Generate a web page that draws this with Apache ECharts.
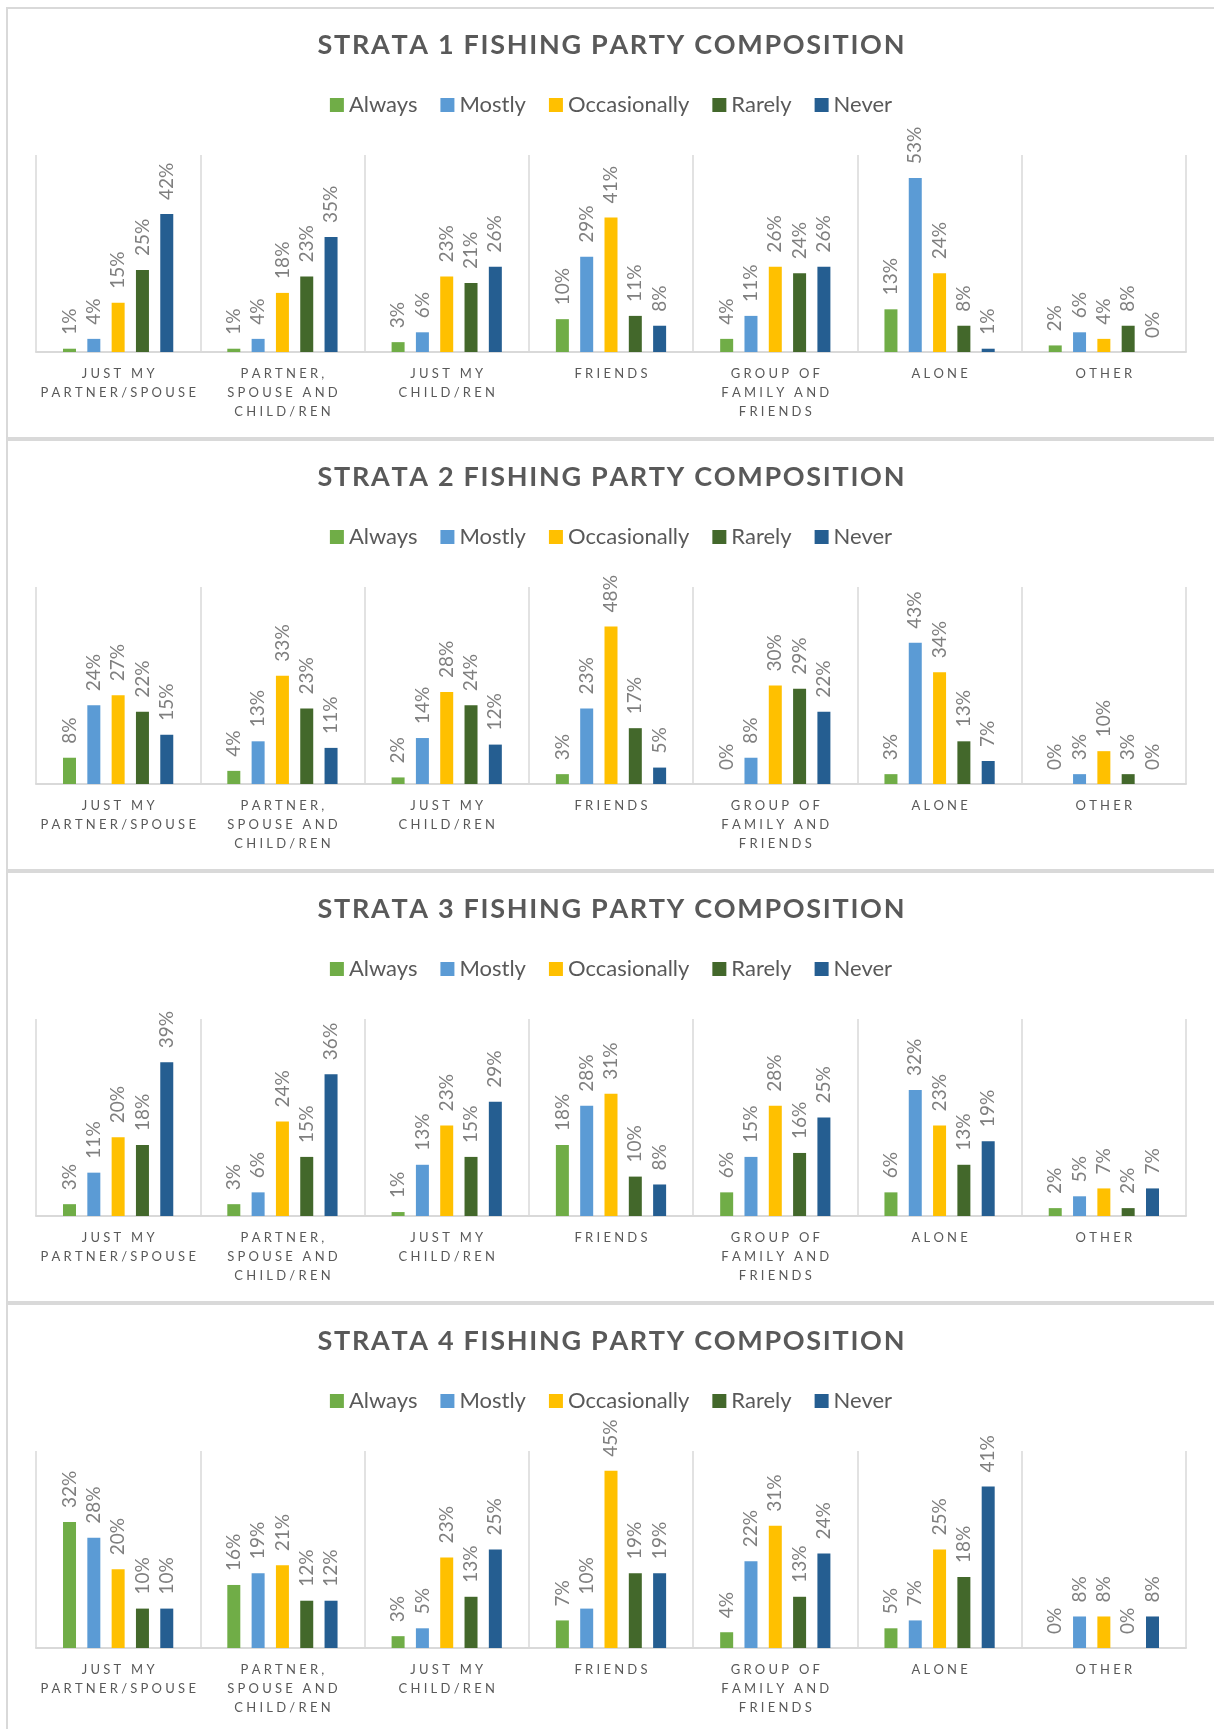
<!DOCTYPE html>
<html>
<head>
<meta charset="utf-8">
<script src="https://cdn.jsdelivr.net/npm/echarts@6/dist/echarts.min.js"></script>
<style>
body { margin: 0; background: #fff; overflow: hidden; }
.panel { position: absolute; left: 6px; width: 1206px; height: 428px; border: 2px solid #d9d9d9; background: #fff; }
.chart { width: 1206px; height: 428px; }
</style>
</head>
<body>
<div id="wrap"></div>
<script>
const categories = ['JUST MY\nPARTNER/SPOUSE', 'PARTNER,\nSPOUSE AND\nCHILD/REN', 'JUST MY\nCHILD/REN', 'FRIENDS', 'GROUP OF\nFAMILY AND\nFRIENDS', 'ALONE', 'OTHER']
const seriesNames = ['Always', 'Mostly', 'Occasionally', 'Rarely', 'Never']
const colors = ['#70ad47', '#5b9bd5', '#ffc000', '#43682b', '#255e91']

// strata 1
const s1Always = [1, 1, 3, 10, 4, 13, 2]
const s1Mostly = [4, 4, 6, 29, 11, 53, 6]
const s1Occasionally = [15, 18, 23, 41, 26, 24, 4]
const s1Rarely = [25, 23, 21, 11, 24, 8, 8]
const s1Never = [42, 35, 26, 8, 26, 1, 0]
// strata 2
const s2Always = [8, 4, 2, 3, 0, 3, 0]
const s2Mostly = [24, 13, 14, 23, 8, 43, 3]
const s2Occasionally = [27, 33, 28, 48, 30, 34, 10]
const s2Rarely = [22, 23, 24, 17, 29, 13, 3]
const s2Never = [15, 11, 12, 5, 22, 7, 0]
// strata 3
const s3Always = [3, 3, 1, 18, 6, 6, 2]
const s3Mostly = [11, 6, 13, 28, 15, 32, 5]
const s3Occasionally = [20, 24, 23, 31, 28, 23, 7]
const s3Rarely = [18, 15, 15, 10, 16, 13, 2]
const s3Never = [39, 36, 29, 8, 25, 19, 7]
// strata 4
const s4Always = [32, 16, 3, 7, 4, 5, 0]
const s4Mostly = [28, 19, 5, 10, 22, 7, 8]
const s4Occasionally = [20, 21, 23, 45, 31, 25, 8]
const s4Rarely = [10, 12, 13, 19, 13, 18, 0]
const s4Never = [10, 12, 25, 19, 24, 41, 8]

const titles = ['STRATA 1 FISHING PARTY COMPOSITION', 'STRATA 2 FISHING PARTY COMPOSITION', 'STRATA 3 FISHING PARTY COMPOSITION', 'STRATA 4 FISHING PARTY COMPOSITION']
const yMax = [60, 60, 50, 50]
const strata = [
  [s1Always, s1Mostly, s1Occasionally, s1Rarely, s1Never],
  [s2Always, s2Mostly, s2Occasionally, s2Rarely, s2Never],
  [s3Always, s3Mostly, s3Occasionally, s3Rarely, s3Never],
  [s4Always, s4Mostly, s4Occasionally, s4Rarely, s4Never]
]

// fake letter spacing with narrow spaces
const spaced = (s, sp) => s.split('\n').map(l => l.split('').join(sp)).join('\n')

const font = 'Lato'
const wrap = document.getElementById('wrap')

strata.forEach((values, i) => {
  const panel = document.createElement('div')
  panel.className = 'panel'
  panel.style.top = (7 + i * 432) + 'px'
  const el = document.createElement('div')
  el.className = 'chart'
  panel.appendChild(el)
  wrap.appendChild(panel)

  const myChart = echarts.init(el)
  const option = {
    animation: false,
    color: colors,
    title: {
      text: spaced(titles[i], '\u200a'),
      left: 'center',
      top: 18,
      textStyle: {
        color: '#595959',
        fontFamily: font,
        fontWeight: 'bold',
        fontSize: 27
      }
    },
    legend: {
      data: seriesNames,
      top: 80,
      left: 'center',
      icon: 'rect',
      itemWidth: 14,
      itemHeight: 14,
      itemGap: 23,
      selectedMode: false,
      textStyle: { color: '#595959', fontFamily: font, fontSize: 22, padding: [0, 0, 0, 0] }
    },
    grid: { left: 28, right: 28, top: 146, height: 197 },
    xAxis: {
      type: 'category',
      data: categories,
      axisLine: { lineStyle: { color: '#d9d9d9', width: 2 } },
      axisTick: { show: false },
      splitLine: { show: true, lineStyle: { color: '#d9d9d9', width: 1.5 } },
      axisLabel: {
        interval: 0,
        margin: 12,
        color: '#595959',
        fontFamily: font,
        fontSize: 13,
        lineHeight: 19,
        formatter: v => spaced(v, '\u2005')
      }
    },
    yAxis: { type: 'value', min: 0, max: yMax[i], show: false },
    series: seriesNames.map((name, k) => ({
      name: name,
      type: 'bar',
      data: values[k],
      barWidth: 13,
      barGap: '87%',
      label: {
        show: true,
        position: 'top',
        rotate: 90,
        align: 'left',
        verticalAlign: 'middle',
        distance: 14,
        color: '#7f7f7f',
        fontFamily: font,
        fontSize: 19,
        formatter: '{c}%'
      }
    }))
  }
  option && myChart.setOption(option)
})
</script>
</body>
</html>
